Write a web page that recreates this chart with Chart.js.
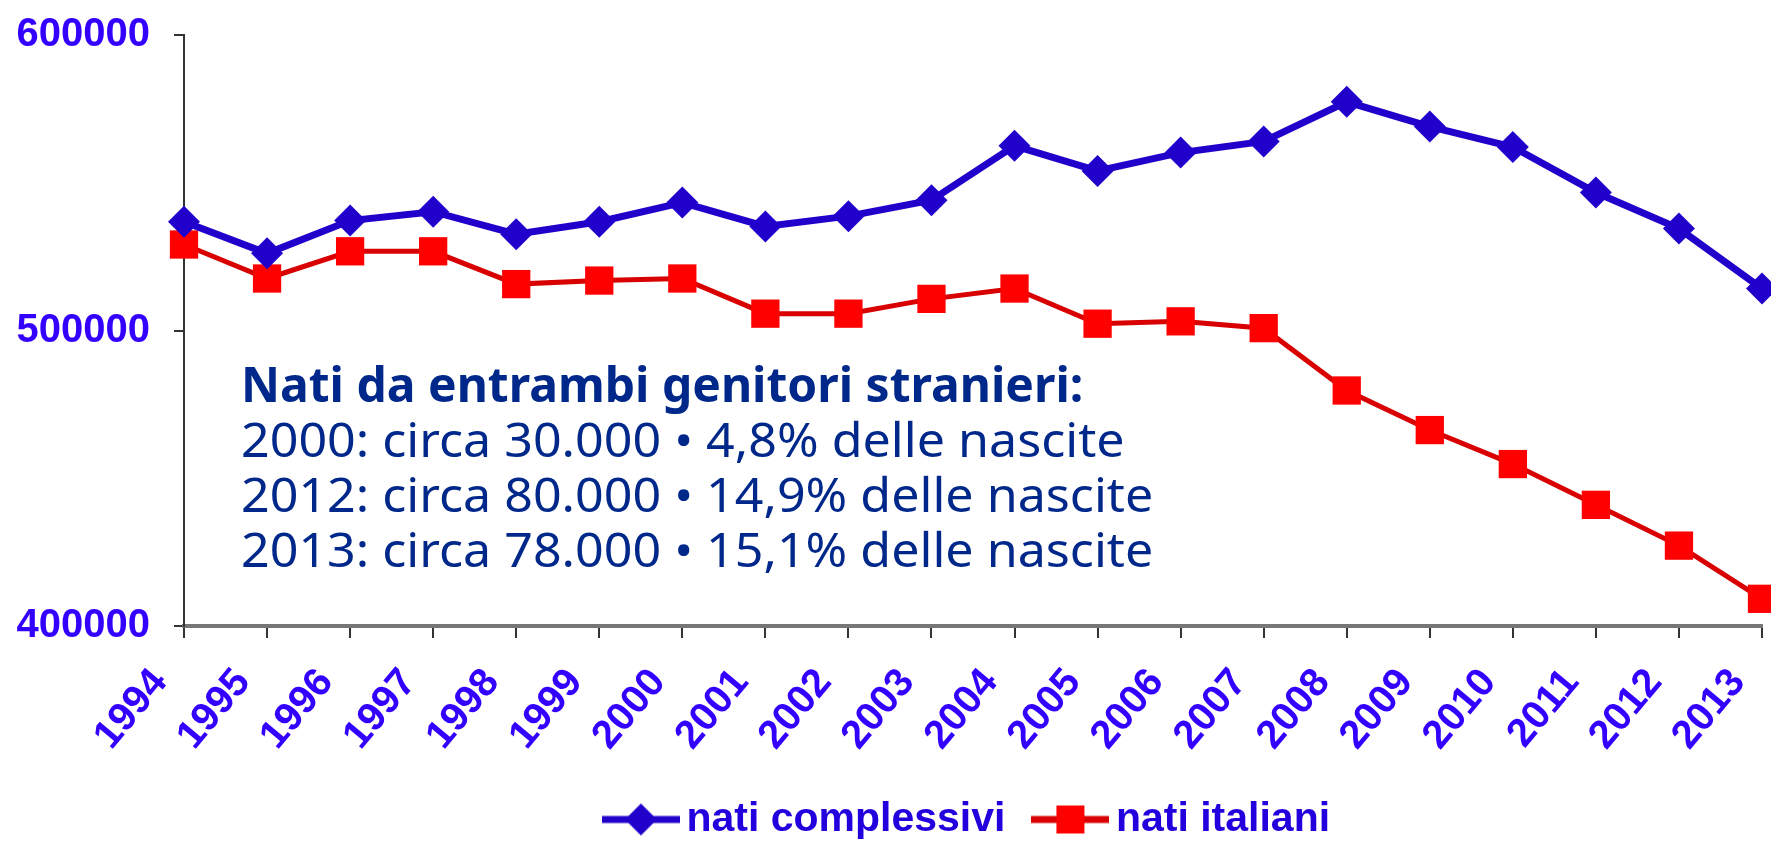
<!DOCTYPE html>
<html>
<head>
<meta charset="utf-8">
<script src="https://cdn.jsdelivr.net/npm/chart.js@4"></script>
<style>
  html, body { margin: 0; padding: 0; background: #fff; }
  #wrap { position: relative; width: 1771px; height: 844px; }
  #note {
    position: absolute; left: 241px; top: 356px;
    font-family: "Noto Sans", sans-serif; font-size: 48px; line-height: 55px;
    color: #00288a; white-space: nowrap;
  }
  #note div { transform-origin: left center; }
  #note .head { font-weight: 700; }
  #note .row { transform: scaleX(1.045); }
</style>
</head>
<body>
<div id="wrap">
  <canvas id="chart" width="1771" height="844"></canvas>
  <div id="note">
    <div class="head">Nati da entrambi genitori stranieri:</div>
    <div class="row">2000: circa 30.000 • 4,8% delle nascite</div>
    <div class="row">2012: circa 80.000 • 14,9% delle nascite</div>
    <div class="row">2013: circa 78.000 • 15,1% delle nascite</div>
  </div>
</div>
<script>
// ================= DATA =================
const years = ["1994", "1995", "1996", "1997", "1998", "1999", "2000", "2001", "2002", "2003",
  "2004", "2005", "2006", "2007", "2008", "2009", "2010", "2011", "2012", "2013"];

const natiComplessivi = [536800, 526100, 537200, 540200, 532600, 536800, 543300, 535200, 538700, 544100,
  562500, 554000, 560200, 564000, 577400, 569000, 562100, 546700, 534500, 514200];

const natiItaliani = [529100, 517600, 526800, 526800, 515700, 516900, 517600, 505700, 505700, 510700,
  514200, 502300, 503100, 500800, 479700, 466300, 454800, 441000, 427200, 409200];

const yTicks = [400000, 500000, 600000];

const BLUE = "#2200cc";
const LABEL_BLUE = "#3300ff";
const RED = "#ff0000";
const RED_LINE = "#d80000";

// legend marker: line with symbol, drawn on a small canvas
function legendIcon(color, lineColor, shape) {
  const c = document.createElement("canvas");
  c.width = 78; c.height = 34;
  const g = c.getContext("2d");
  g.strokeStyle = lineColor;
  g.lineWidth = 7;
  g.beginPath(); g.moveTo(0, 17); g.lineTo(78, 17); g.stroke();
  g.fillStyle = color;
  g.beginPath();
  if (shape === "diamond") {
    g.moveTo(39, 1); g.lineTo(55, 17); g.lineTo(39, 33); g.lineTo(23, 17);
  } else {
    g.rect(25, 3, 28, 28);
  }
  g.closePath(); g.fill();
  return c;
}

// x scale: no side padding from the rotated labels
function fitX(s) {
  s.height = 133;
  s.paddingLeft = 0;
  s.paddingRight = 0;
}

const ctx = document.getElementById("chart").getContext("2d");

new Chart(ctx, {
  type: "line",
  data: {
    labels: years,
    datasets: [
      {
        label: "nati complessivi",
        data: natiComplessivi,
        borderColor: BLUE,
        backgroundColor: BLUE,
        borderWidth: 7,
        pointStyle: "rectRot",
        pointRadius: 16,
        pointBorderWidth: 0,
        pointBackgroundColor: BLUE,
        tension: 0
      },
      {
        label: "nati italiani",
        data: natiItaliani,
        borderColor: RED_LINE,
        backgroundColor: RED,
        borderWidth: 5,
        pointStyle: "rect",
        pointRadius: 20,
        pointBorderWidth: 0,
        pointBackgroundColor: RED,
        tension: 0
      }
    ]
  },
  options: {
    responsive: false,
    animation: false,
    clip: false,
    layout: { autoPadding: false, padding: { top: 0, right: 9, left: 0, bottom: -6 } },
    plugins: {
      tooltip: { enabled: false },
      legend: {
        display: true,
        position: "bottom",
        fullSize: false,
        labels: {
          usePointStyle: true,
          pointStyleWidth: 50,
          padding: 40,
          color: "#2200dd",
          font: { family: "'Liberation Sans', Arial, sans-serif", size: 41, weight: "bold" },
          generateLabels: (chart) => [
            { text: "nati complessivi", pointStyle: legendIcon(BLUE, BLUE, "diamond"), fontColor: "#2200dd", datasetIndex: 0, lineWidth: 0 },
            { text: "nati italiani", pointStyle: legendIcon(RED, RED_LINE, "square"), fontColor: "#2200dd", datasetIndex: 1, lineWidth: 0 }
          ]
        }
      }
    },
    scales: {
      x: {
        offset: false,
        afterFit: fitX,
        grid: { display: true, drawOnChartArea: false, drawTicks: true, tickLength: 12, color: "#333", lineWidth: 2 },
        border: { display: true, color: "#777", width: 4 },
        ticks: {
          autoSkip: false,
          maxRotation: 50,
          minRotation: 50,
          padding: 22,
          labelOffset: -24,
          color: LABEL_BLUE,
          font: { family: "'Liberation Sans', Arial, sans-serif", size: 40, weight: "bold" }
        }
      },
      y: {
        min: 400000,
        max: 600000,
        afterFit: (s) => { s.width = 184; s.paddingTop = 35; s.paddingBottom = 0; },
        afterBuildTicks: (s) => { s.ticks = yTicks.map(v => ({ value: v })); },
        grid: { display: true, drawOnChartArea: false, drawTicks: true, tickLength: 10, color: "#333", lineWidth: 2 },
        border: { display: true, color: "#333", width: 2 },
        ticks: {
          padding: 24,
          color: LABEL_BLUE,
          callback: (v) => String(v),
          font: { family: "'Liberation Sans', Arial, sans-serif", size: 40, weight: "bold" }
        }
      }
    }
  }
});
</script>
</body>
</html>
